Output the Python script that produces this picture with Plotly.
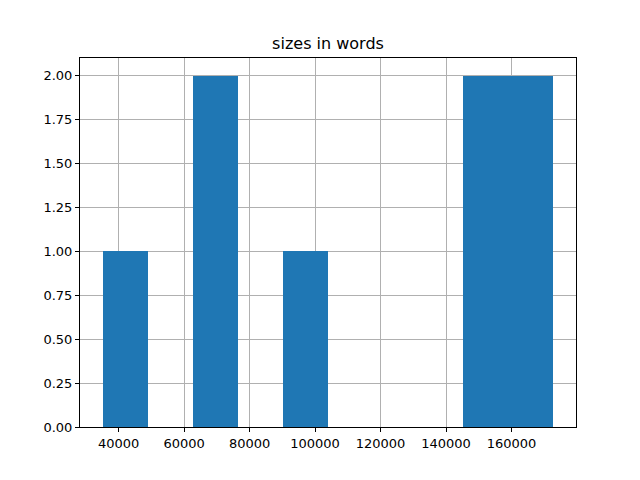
import numpy as np
import plotly.graph_objects as go

# word counts of the texts
sizes_in_words = [35100, 68000, 71500, 97000, 150000, 156000, 163000, 172800]
n_bins = 10

y_ticks = [0.0, 0.25, 0.5, 0.75, 1.0, 1.25, 1.5, 1.75, 2.0]
x_ticks = [40000, 60000, 80000, 100000, 120000, 140000, 160000]

counts, edges = np.histogram(sizes_in_words, bins=n_bins)
centers = (edges[:-1] + edges[1:]) / 2
widths = np.diff(edges)

fig = go.Figure()
fig.add_trace(go.Bar(
    x=centers,
    y=counts,
    width=widths,
    marker=dict(color="#1f77b4", line=dict(width=0)),
    showlegend=False,
))

span = edges[-1] - edges[0]
pad = span * 0.05

axis_style = dict(
    showline=True,
    linecolor="black",
    linewidth=1,
    mirror=True,
    ticks="outside",
    ticklen=4,
    tickcolor="black",
    showgrid=True,
    gridcolor="#b0b0b0",
    gridwidth=0.8,
    zeroline=False,
    layer="above traces",
    tickfont=dict(family="DejaVu Sans", size=13, color="black"),
)

# page body has an 8px margin, so the margins are shifted to compensate
fig.update_layout(
    width=640,
    height=480,
    plot_bgcolor="white",
    paper_bgcolor="white",
    bargap=0,
    margin=dict(l=72, r=72, t=50, b=61),
    title=dict(
        text="sizes in words",
        x=0.5,
        xref="paper",
        xanchor="center",
        y=1,
        yref="paper",
        yanchor="bottom",
        pad=dict(b=9),
        font=dict(family="DejaVu Sans", size=16, color="black"),
    ),
)
fig.update_xaxes(
    range=[edges[0] - pad, edges[-1] + pad],
    tickvals=x_ticks,
    ticktext=[str(v) for v in x_ticks],
    **axis_style,
)
fig.update_yaxes(
    range=[0, 2.1],
    tickvals=y_ticks,
    ticktext=[f"{v:.2f}" for v in y_ticks],
    **axis_style,
)

fig.write_html("out.html")
